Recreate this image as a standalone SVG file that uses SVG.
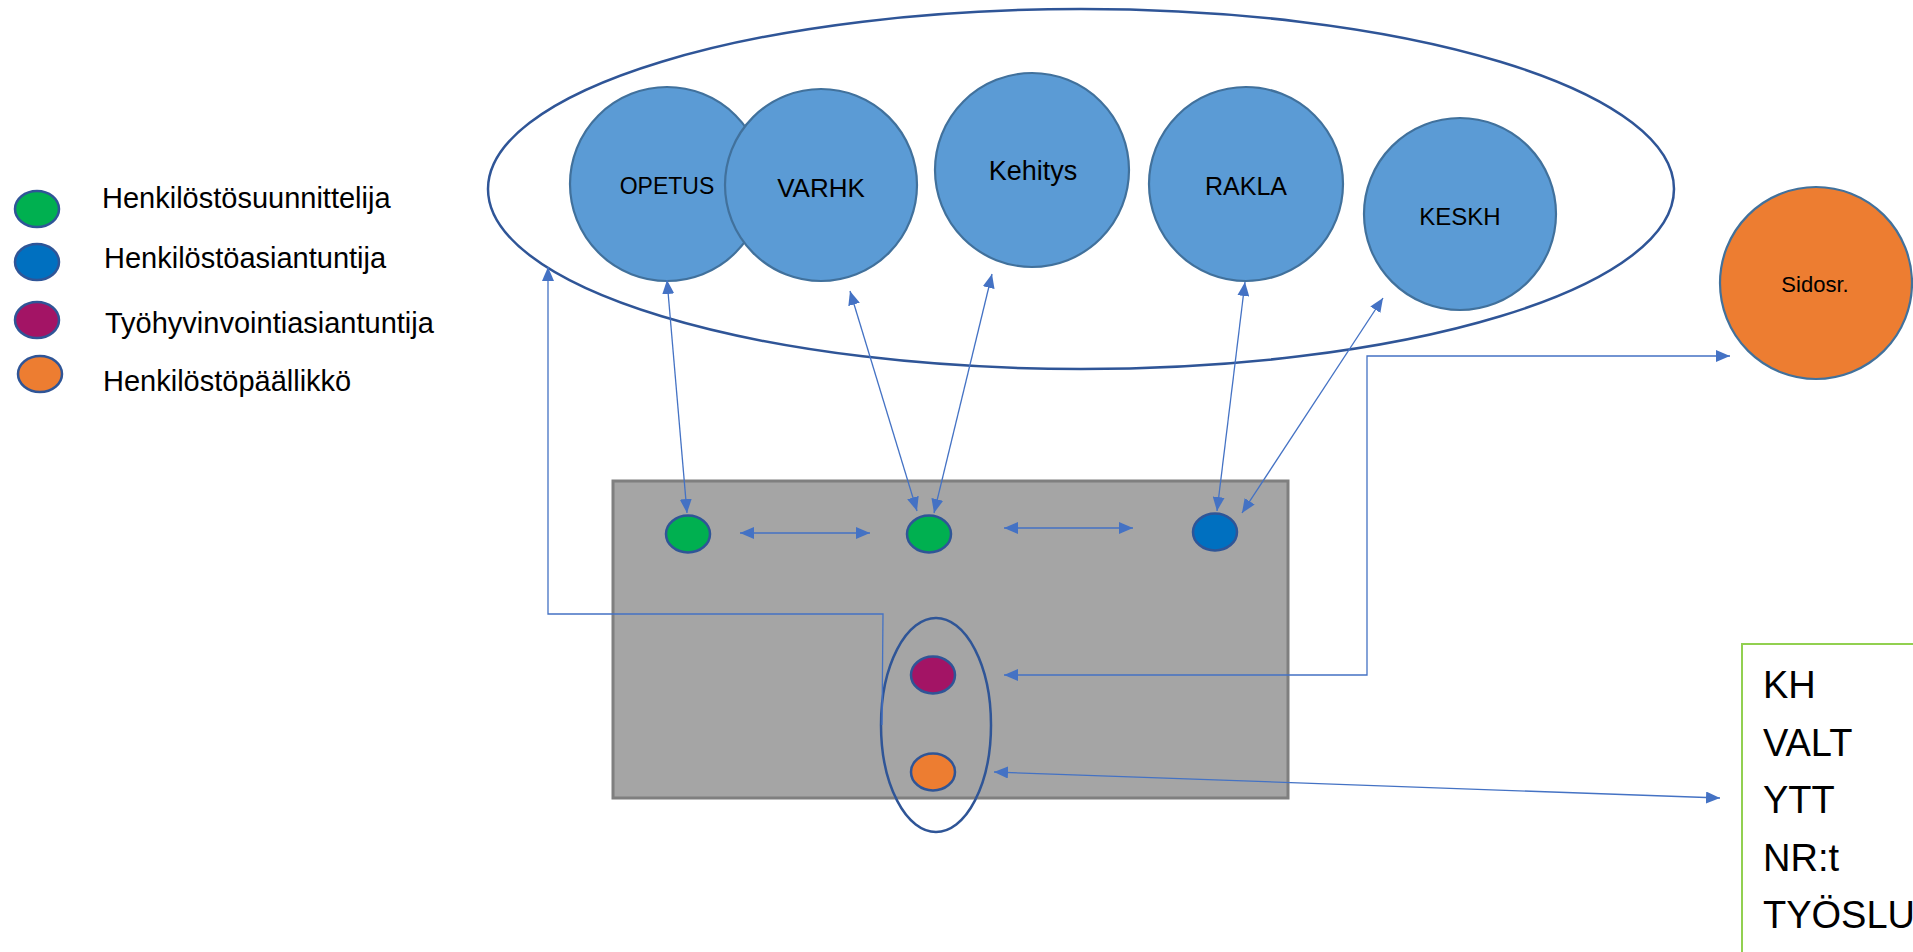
<svg xmlns="http://www.w3.org/2000/svg" width="1913" height="952" viewBox="0 0 1913 952">
<style>
text{font-family:"Liberation Sans",Arial,sans-serif;fill:#000}
.blue{fill:#5B9BD5;stroke:#41719C;stroke-width:2.2}
.dot{stroke:#2F5597;stroke-width:2.5}
.con{fill:none;stroke:#4472C4;stroke-width:1.3}
.lbl{text-anchor:middle}
.leg{font-size:29px}
.box{font-size:38px}
</style>
<defs>
<marker id="ah" viewBox="0 0 14 12" refX="14" refY="6" markerWidth="14" markerHeight="12" markerUnits="userSpaceOnUse" orient="auto-start-reverse">
<path d="M0,0 L14,6 L0,12 z" fill="#4472C4"/>
</marker>
</defs>
<rect width="1913" height="952" fill="#fff"/>

<g id="legend">
<ellipse cx="37" cy="209" rx="22" ry="18" fill="#00B050" class="dot"/>
<ellipse cx="37" cy="262" rx="22" ry="18" fill="#0070C0" class="dot"/>
<ellipse cx="37" cy="320" rx="22" ry="18" fill="#A31465" class="dot"/>
<ellipse cx="40" cy="374" rx="22" ry="18" fill="#ED7D31" class="dot"/>
<text x="102" y="208" class="leg">Henkilöstösuunnittelija</text>
<text x="104" y="268" class="leg">Henkilöstöasiantuntija</text>
<text x="105" y="333" class="leg">Työhyvinvointiasiantuntija</text>
<text x="103" y="391" class="leg">Henkilöstöpäällikkö</text>
</g>

<g id="group-ellipse">
<ellipse cx="1081" cy="189" rx="593" ry="180" fill="#fff" stroke="#2F5597" stroke-width="2.5"/>
</g>
<g id="opetus">
<circle cx="667" cy="184" r="97" class="blue"/>
<text x="667" y="194" class="lbl" font-size="23">OPETUS</text>
</g>
<g id="varhk">
<circle cx="821" cy="185" r="96" class="blue"/>
<text x="821" y="197" class="lbl" font-size="26">VARHK</text>
</g>
<g id="kehitys">
<circle cx="1032" cy="170" r="97" class="blue"/>
<text x="1033" y="180" class="lbl" font-size="27">Kehitys</text>
</g>
<g id="rakla">
<circle cx="1246" cy="184" r="97" class="blue"/>
<text x="1246" y="195" class="lbl" font-size="25">RAKLA</text>
</g>
<g id="keskh">
<circle cx="1460" cy="214" r="96" class="blue"/>
<text x="1460" y="225" class="lbl" font-size="24">KESKH</text>
</g>
<g id="sidosr">
<circle cx="1816" cy="283" r="96" fill="#ED7D31" stroke="#41719C" stroke-width="2.2"/>
<text x="1815" y="292" class="lbl" font-size="22">Sidosr.</text>
</g>

<g id="office">
<rect x="613" y="481" width="675" height="317" fill="#A5A5A5" stroke="#7F7F7F" stroke-width="3"/>
</g>
<g id="planner1"><ellipse cx="688" cy="534" rx="22" ry="18.5" fill="#00B050" class="dot"/></g>
<g id="planner2"><ellipse cx="929" cy="534" rx="22" ry="18.5" fill="#00B050" class="dot"/></g>
<g id="expert"><ellipse cx="1215" cy="532" rx="22" ry="18.5" fill="#0070C0" class="dot"/></g>
<g id="management">
<ellipse cx="936" cy="725" rx="55" ry="107" fill="none" stroke="#2F5597" stroke-width="2.5"/>
<ellipse cx="933" cy="675" rx="22" ry="18.5" fill="#A31465" class="dot"/>
<ellipse cx="933" cy="772" rx="22" ry="18.5" fill="#ED7D31" class="dot"/>
</g>

<g id="partners">
<rect x="1742" y="644" width="200" height="330" fill="#fff" stroke="#92D050" stroke-width="2"/>
<text x="1763" y="698" class="box">KH</text>
<text x="1763" y="756" class="box">VALT</text>
<text x="1763" y="813" class="box">YTT</text>
<text x="1763" y="871" class="box">NR:t</text>
<text x="1763" y="928" class="box">TYÖSLU</text>
</g>

<g id="connectors">
<line x1="667" y1="280" x2="687" y2="513" class="con" marker-start="url(#ah)" marker-end="url(#ah)"/>
<line x1="850" y1="291" x2="917" y2="511" class="con" marker-start="url(#ah)" marker-end="url(#ah)"/>
<line x1="992" y1="274" x2="934" y2="513" class="con" marker-start="url(#ah)" marker-end="url(#ah)"/>
<line x1="1245" y1="282" x2="1217" y2="511" class="con" marker-start="url(#ah)" marker-end="url(#ah)"/>
<line x1="1383" y1="298" x2="1242" y2="513" class="con" marker-start="url(#ah)" marker-end="url(#ah)"/>
<line x1="740" y1="533" x2="870" y2="533" class="con" marker-start="url(#ah)" marker-end="url(#ah)"/>
<line x1="1004" y1="528" x2="1133" y2="528" class="con" marker-start="url(#ah)" marker-end="url(#ah)"/>
<polyline points="1004,675 1367,675 1367,356 1730,356" class="con" marker-start="url(#ah)" marker-end="url(#ah)"/>
<line x1="994" y1="772" x2="1720" y2="798" class="con" marker-start="url(#ah)" marker-end="url(#ah)"/>
<polyline points="882,725 883,614 548,614 548,267" class="con" marker-end="url(#ah)"/>
</g>
</svg>
